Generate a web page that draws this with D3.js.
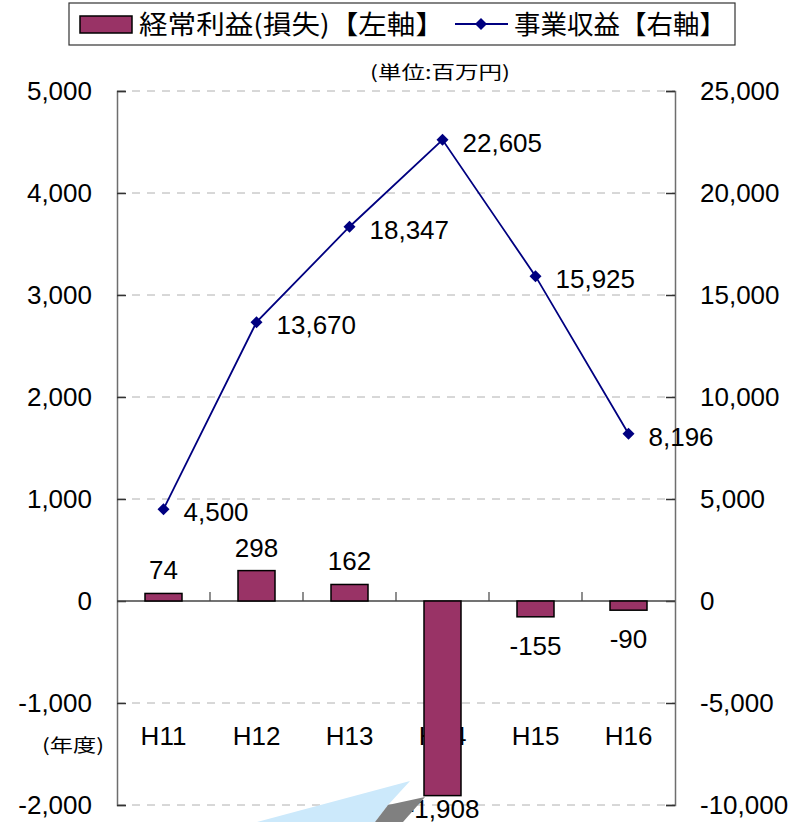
<!DOCTYPE html>
<html>
<head>
<meta charset="utf-8">
<script src="https://cdn.jsdelivr.net/npm/d3@7/dist/d3.min.js"></script>
<style>
  body { margin: 0; background: #fff; }
  text { font-family: "Liberation Sans", Arial, "Noto Sans CJK JP", sans-serif; fill: #000; }
  .jp { font-family: "Noto Sans CJK JP", sans-serif; }
</style>
</head>
<body>
<div id="chart"></div>
<script>
// data (百万円)
var years = ['H11', 'H12', 'H13', 'H14', 'H15', 'H16'];
var profit = [74, 298, 162, -1908, -155, -90];          // 経常利益(損失) left axis
var revenue = [4500, 13670, 18347, 22605, 15925, 8196]; // 事業収益 right axis
var leftTicks = [-2000, -1000, 0, 1000, 2000, 3000, 4000, 5000];
var rightTicks = [-10000, -5000, 0, 5000, 10000, 15000, 20000, 25000];

var width = 798, height = 822;
var plot = { left: 117, right: 675, top: 91, bottom: 805 };

var svg = d3.select('#chart').append('svg')
  .attr('width', width)
  .attr('height', height);

var x = d3.scaleBand().domain(years).range([plot.left, plot.right]);
var yL = d3.scaleLinear().domain([-2000, 5000]).range([plot.bottom, plot.top]);
var yR = d3.scaleLinear().domain([-10000, 25000]).range([plot.bottom, plot.top]);
var fmt = function(d){ return d3.format(',')(d).replace('−', '-'); };
var diamond = d3.symbol().type(d3.symbolSquare).size(72);

// grid lines
svg.selectAll('.grid')
  .data(leftTicks.filter(function(d){ return d !== 0; }))
  .enter().append('line')
  .attr('x1', plot.left).attr('x2', plot.right)
  .attr('y1', function(d){ return yL(d); })
  .attr('y2', function(d){ return yL(d); })
  .attr('stroke', '#b0b0b0')
  .attr('stroke-dasharray', '8,7');

// left axis
var leftAxis = d3.axisLeft(yL).tickValues(leftTicks).tickSize(-9).tickPadding(25).tickFormat(fmt);
var gL = svg.append('g').attr('transform', 'translate(' + plot.left + ',0)').call(leftAxis);

// right axis
var rightAxis = d3.axisRight(yR).tickValues(rightTicks).tickSize(-9).tickPadding(25).tickFormat(fmt);
var gR = svg.append('g').attr('transform', 'translate(' + plot.right + ',0)').call(rightAxis);

[gL, gR].forEach(function(g){
  g.select('.domain').attr('stroke', '#6e6e6e').attr('stroke-width', 1.5);
  g.selectAll('.tick line').attr('stroke', '#333').attr('stroke-width', 1.5);
  g.selectAll('.tick text').attr('font-size', 26).style('font-family', '"Liberation Sans", Arial, sans-serif');
});

// zero line with category ticks
svg.append('line')
  .attr('x1', plot.left).attr('x2', plot.right)
  .attr('y1', yL(0)).attr('y2', yL(0))
  .attr('stroke', '#444').attr('stroke-width', 1.5);
svg.selectAll('.cattick')
  .data(years.slice(1))
  .enter().append('line')
  .attr('x1', function(d){ return x(d); })
  .attr('x2', function(d){ return x(d); })
  .attr('y1', yL(0)).attr('y2', yL(0) - 9)
  .attr('stroke', '#444').attr('stroke-width', 1.2);

// category labels
svg.selectAll('.cat')
  .data(years)
  .enter().append('text')
  .attr('x', function(d){ return x(d) + x.bandwidth() / 2; })
  .attr('y', 745)
  .attr('text-anchor', 'middle')
  .attr('font-size', 26)
  .text(function(d){ return d; });

// bars
var barW = 37;
svg.selectAll('.bar')
  .data(profit)
  .enter().append('rect')
  .attr('x', function(d, i){ return x(years[i]) + x.bandwidth() / 2 - barW / 2; })
  .attr('y', function(d){ return yL(Math.max(0, d)); })
  .attr('width', barW)
  .attr('height', function(d){ return Math.abs(yL(d) - yL(0)); })
  .attr('fill', '#993366')
  .attr('stroke', '#000')
  .attr('stroke-width', 1.5);

// bar labels (kept inside the picture at the bottom)
svg.selectAll('.barlabel')
  .data(profit)
  .enter().append('text')
  .attr('x', function(d, i){ return x(years[i]) + x.bandwidth() / 2; })
  .attr('y', function(d){ return d >= 0 ? yL(d) - 14 : Math.min(yL(d) + 38, height - 4); })
  .attr('text-anchor', 'middle')
  .attr('font-size', 26)
  .text(fmt);

// revenue line
var line = d3.line()
  .x(function(d, i){ return x(years[i]) + x.bandwidth() / 2; })
  .y(function(d){ return yR(d); });
svg.append('path')
  .datum(revenue)
  .attr('d', line)
  .attr('fill', 'none')
  .attr('stroke', '#000080')
  .attr('stroke-width', 1.8);
svg.selectAll('.pt')
  .data(revenue)
  .enter().append('path')
  .attr('d', diamond)
  .attr('transform', function(d, i){
    return 'translate(' + (x(years[i]) + x.bandwidth() / 2) + ',' + yR(d) + ') rotate(45)';
  })
  .attr('fill', '#000080');
svg.selectAll('.ptlabel')
  .data(revenue)
  .enter().append('text')
  .attr('x', function(d, i){ return x(years[i]) + x.bandwidth() / 2 + 20; })
  .attr('y', function(d){ return yR(d) + 12; })
  .attr('font-size', 26)
  .text(fmt);

// stray shapes from the original picture
svg.append('polygon')
  .attr('points', '257,822 410,781 388,805 375,822')
  .attr('fill', '#cce9fb');
svg.append('polygon')
  .attr('points', '375,822 388,805 425,797 403,822')
  .attr('fill', '#808080');

// unit and year labels
svg.append('text').attr('class', 'jp')
  .attr('x', 370).attr('y', 79)
  .attr('font-size', 18)
  .attr('textLength', 140).attr('lengthAdjust', 'spacingAndGlyphs')
  .text('(単位:百万円)');
svg.append('text').attr('class', 'jp')
  .attr('x', 42).attr('y', 752)
  .attr('font-size', 18)
  .attr('textLength', 62).attr('lengthAdjust', 'spacingAndGlyphs')
  .text('(年度)');

// legend
var lg = svg.append('g');
lg.append('rect')
  .attr('x', 69).attr('y', 3).attr('width', 666).attr('height', 42)
  .attr('fill', '#fff').attr('stroke', '#333').attr('stroke-width', 1.2);
lg.append('rect')
  .attr('x', 80).attr('y', 16).attr('width', 52).attr('height', 17)
  .attr('fill', '#993366').attr('stroke', '#000').attr('stroke-width', 1.5);
lg.append('text').attr('class', 'jp')
  .attr('x', 139).attr('y', 34).attr('font-size', 26)
  .attr('textLength', 305).attr('lengthAdjust', 'spacingAndGlyphs')
  .text('経常利益(損失)【左軸】');
lg.append('line')
  .attr('x1', 455).attr('x2', 508).attr('y1', 24).attr('y2', 24)
  .attr('stroke', '#000080').attr('stroke-width', 1.8);
lg.append('path')
  .attr('d', diamond)
  .attr('transform', 'translate(481,24) rotate(45)')
  .attr('fill', '#000080');
lg.append('text').attr('class', 'jp')
  .attr('x', 514).attr('y', 34).attr('font-size', 26)
  .attr('textLength', 212).attr('lengthAdjust', 'spacingAndGlyphs')
  .text('事業収益【右軸】');
</script>
</body>
</html>
